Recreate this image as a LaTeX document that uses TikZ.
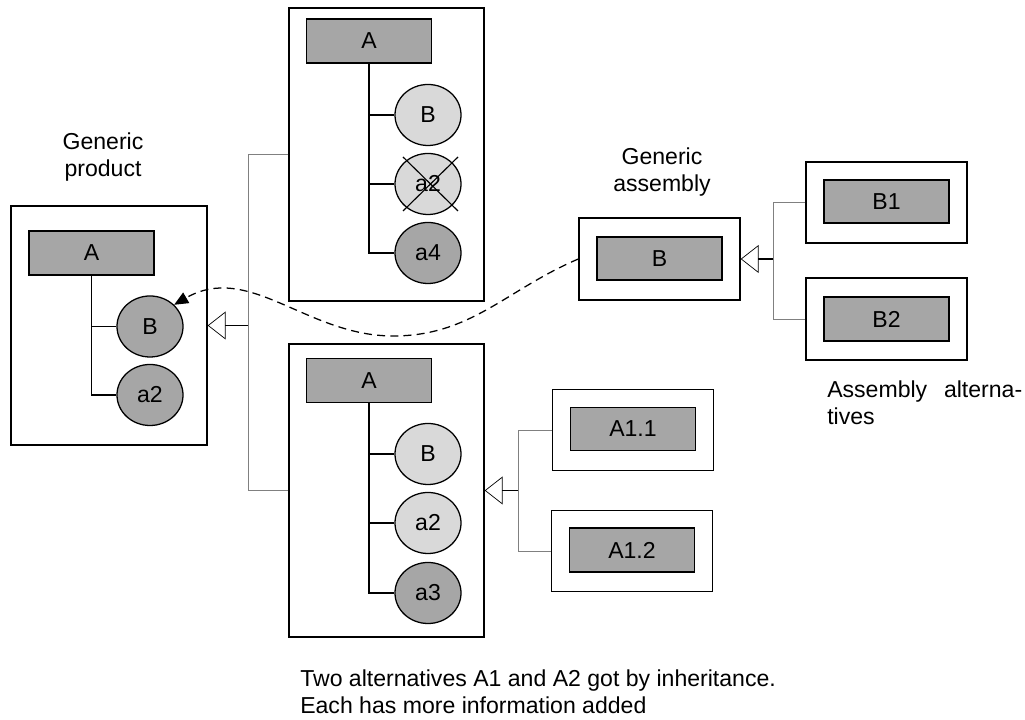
\documentclass[tikz,border=0pt]{standalone}
\usepackage{fontspec}
\setmainfont{Liberation Sans}
\usetikzlibrary{arrows.meta,shapes.geometric}
\definecolor{partgray}{RGB}{166,166,166}
\definecolor{lightgray}{RGB}{217,217,217}
\tikzset{
  frame/.style={rectangle, draw, line width=0.9pt, fill=white, inner sep=0pt},
  part/.style={rectangle, draw, line width=0.9pt, fill=partgray, minimum width=3.125cm, minimum height=1.1cm, inner sep=0pt},
  item/.style={ellipse, draw, line width=0.9pt, minimum width=1.65cm, minimum height=1.525cm, inner sep=0pt},
  dark/.style={item, fill=partgray},
  light/.style={item, fill=lightgray},
  alt/.style={frame, minimum width=4.025cm, minimum height=2.025cm},
  label/.style={inner sep=0pt}
}
\begin{document}
\begin{tikzpicture}[x=0.025cm, y=0.025cm, font=\fontsize{16.4}{19.2}\selectfont]
\useasboundingbox (0,0) rectangle (1025,720);

% generic product
\node[frame, minimum width=4.9cm, minimum height=5.975cm] (g0) at (109,394.5) {};
\node[part] (gA) at (91.5,467) {A};
\node[dark] (gB) at (150,393.5) {B};
\node[dark] (ga2) at (150,325) {a2};
\draw[line width=0.9pt] (gA.south) |- (gB.west);
\draw[line width=0.9pt] (gA.south) |- (ga2.west);
\node[label, anchor=north, align=center] (lp) at (103,587) {Generic\\product};

% first alternative
\node[frame, minimum width=4.875cm, minimum height=7.325cm] (t0) at (386.5,565.5) {};
\node[part] (tA) at (369,679) {A};
\node[light] (tB) at (428,605) {B};
\node[light] (ta2) at (428,536) {a2};
\node[dark] (ta4) at (428,467) {a4};
\draw[line width=0.9pt] (tA.south) |- (tB.west);
\draw[line width=0.9pt] (tA.south) |- (ta2.west);
\draw[line width=0.9pt] (tA.south) |- (ta4.west);
\draw[line width=0.8pt] ([shift={(-25,27)}]ta2.center) -- ([shift={(30,-27)}]ta2.center);
\draw[line width=0.8pt] ([shift={(-25,-27)}]ta2.center) -- ([shift={(30,27)}]ta2.center);

% second alternative
\node[frame, minimum width=4.875cm, minimum height=7.325cm] (b0) at (386.5,229.5) {};
\node[part] (bA) at (369,339.5) {A};
\node[light] (bB) at (428,266) {B};
\node[light] (ba2) at (428,197) {a2};
\node[dark] (ba3) at (428,127) {a3};
\draw[line width=0.9pt] (bA.south) |- (bB.west);
\draw[line width=0.9pt] (bA.south) |- (ba2.west);
\draw[line width=0.9pt] (bA.south) |- (ba3.west);

% A1.1 and A1.2
\node[alt] (c1) at (633,290) {};
\node[part, minimum height=1.075cm] (c1A) at (633,291) {A1.1};
\node[alt] (c2) at (632,169) {};
\node[part] (c2A) at (632,170) {A1.2};

% generic assembly
\node[alt, minimum height=2.05cm] (e0) at (659.5,461) {};
\node[part, minimum height=1.075cm] (eB) at (659.5,461.5) {B};
\node[label, anchor=north, align=center] (la) at (662,572) {Generic\\assembly};

% B1 and B2
\node[alt] (d1) at (886.5,517.5) {};
\node[part, minimum height=1.075cm] (d1B) at (886.5,518.5) {B1};
\node[alt, minimum height=2.05cm] (d2) at (886.5,401) {};
\node[part] (d2B) at (886.5,401) {B2};
\node[label, anchor=north west, align=left] (lb) at (827,339) {Assembly\hspace{0.42cm}alterna-\\tives};

% inheritance
\coordinate (j1) at (248,394.5);
\coordinate (j2) at (518,229.5);
\coordinate (j3) at (773,461);
\draw[gray, line width=0.5pt] (t0.west) -| (j1);
\draw[gray, line width=0.5pt] (b0.west) -| (j1);
\draw[gray, line width=0.5pt] (c1.west) -| (j2);
\draw[gray, line width=0.5pt] (c2.west) -| (j2);
\draw[gray, line width=0.5pt] (d1.west) -| (j3);
\draw[gray, line width=0.5pt] (d2.west) -| (j3);
\draw[line width=0.9pt, -{Triangle[open, length=0.45cm, width=0.7cm, line width=0.5pt]}] (j1) -- (g0.east);
\draw[line width=0.9pt, -{Triangle[open, length=0.45cm, width=0.7cm, line width=0.5pt]}] (j2) -- (b0.east);
\draw[line width=0.9pt, -{Triangle[open, length=0.45cm, width=0.7cm, line width=0.5pt]}] (j3) -- (e0.east);

% usage of the assembly
\coordinate (dip) at (393,384);
\draw[line width=0.9pt, dash pattern=on 0.2cm off 0.13cm, -{Triangle[length=0.35cm, width=0.3cm]}]
  (e0.west) to[out=203, in=0] (dip) to[out=180, in=30] (gB.42);

\node[label, anchor=north west, align=left] (ln) at (300,50) {Two alternatives A1 and A2 got by inheritance.\\Each has more information added};

\end{tikzpicture}
\end{document}
